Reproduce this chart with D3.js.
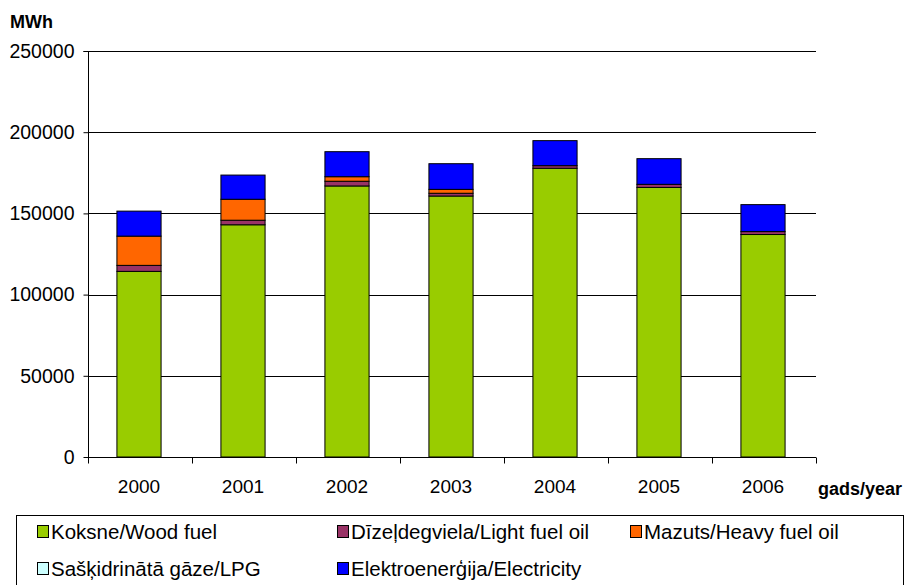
<!DOCTYPE html>
<html><head><meta charset="utf-8">
<script src="https://cdn.jsdelivr.net/npm/d3@7"></script>
<style>body{margin:0;background:#fff}svg{display:block}text{font-family:"Liberation Sans",Arial,sans-serif}</style>
</head><body><svg id="c" width="906" height="585"></svg>
<script>
const years = ["2000","2001","2002","2003","2004","2005","2006"];
const wood = [114300,143000,166900,160700,177800,166000,137000];
const lightOil = [3700,2800,2900,1700,1600,1900,1800];
const heavyOil = [18000,12900,2800,2400,0,0,0];
const lpg = [0,0,0,0,0,0,0];
const electricity = [15400,14900,15400,15800,15400,15800,16600];
const seriesNames = ["Koksne/Wood fuel","Dīzeļdegviela/Light fuel oil","Mazuts/Heavy fuel oil","Sašķidrinātā gāze/LPG","Elektroenerģija/Electricity"];
const seriesColors = ["#99CC00","#993366","#FF6600","#CCFFFF","#0000FF"];
const yTicks = [0,50000,100000,150000,200000,250000];

const svg = d3.select("#c");
const L=88,R=816,T=51,B=457;
const x = d3.scaleBand().domain(years).range([L,R]).paddingInner(0.585).paddingOuter(0.2925);
const y = d3.scaleLinear().domain([0,250000]).range([B,T]);

svg.append("g").selectAll("line").data(yTicks.filter(d=>d>0)).join("line")
  .attr("x1",L).attr("x2",R).attr("y1",d=>Math.round(y(d))+0.5).attr("y2",d=>Math.round(y(d))+0.5)
  .attr("stroke","#000").attr("stroke-width",1);

const arrays=[wood,lightOil,heavyOil,lpg,electricity];
const rows = years.map((yr,i)=>{const o={year:yr};arrays.forEach((a,k)=>o["s"+k]=a[i]);return o;});
const stack = d3.stack().keys(arrays.map((a,k)=>"s"+k))(rows);
stack.forEach((layer,k)=>{
  svg.append("g").selectAll("rect").data(layer.filter(d=>d[1]-d[0]>0)).join("rect")
    .attr("x",d=>x(d.data.year)-1.5).attr("width",x.bandwidth()+1)
    .attr("y",d=>y(d[1])).attr("height",d=>y(d[0])-y(d[1]))
    .attr("fill",seriesColors[k]).attr("stroke","#000").attr("stroke-width",1);
});

const ya = svg.append("g").attr("transform",`translate(${L+0.5},0)`)
  .call(d3.axisLeft(y).tickValues(yTicks).tickSize(5).tickPadding(9).tickFormat(d3.format("d")));
ya.select(".domain").attr("d",`M-5,${T+0.5}H0V${B+0.5}`);
ya.selectAll("text").attr("font-size",19.5).attr("fill","#000").attr("font-family","Liberation Sans, Arial, sans-serif");
ya.selectAll("line,path").attr("stroke","#000");

const xa = svg.append("g").attr("transform",`translate(0,${B+0.5})`);
xa.append("line").attr("x1",L).attr("x2",R).attr("stroke","#000");
const bounds = d3.range(years.length+1).map(i=>L+i*(R-L)/years.length);
xa.selectAll(".tk").data(bounds).join("line").attr("class","tk")
  .attr("x1",d=>Math.round(d)+0.5).attr("x2",d=>Math.round(d)+0.5).attr("y1",0).attr("y2",6).attr("stroke","#000");
xa.selectAll(".lb").data(years).join("text").attr("class","lb")
  .attr("x",d=>x(d)+x.bandwidth()/2-1).attr("y",35).attr("text-anchor","middle").attr("font-size",19).text(d=>d);

svg.append("text").attr("x",10).attr("y",28).attr("font-size",18).attr("font-weight","bold").text("MWh");
svg.append("text").attr("x",818).attr("y",495).attr("font-size",18).attr("font-weight","bold").text("gads/year");

svg.append("rect").attr("x",16.5).attr("y",515.5).attr("width",887).attr("height",80).attr("fill","none").attr("stroke","#000");
const legPos=[[37,532],[337,532],[630,532],[37,569],[337,569]];
const lg = svg.append("g").selectAll("g").data(seriesNames).join("g")
  .attr("transform",(d,i)=>`translate(${legPos[i][0]},${legPos[i][1]})`);
lg.append("rect").attr("x",0.5).attr("y",-6.5).attr("width",11).attr("height",12).attr("fill",(d,i)=>seriesColors[i]).attr("stroke","#000");
lg.append("text").attr("x",14).attr("y",7).attr("font-size",20.5).text(d=>d);
</script></body></html>
